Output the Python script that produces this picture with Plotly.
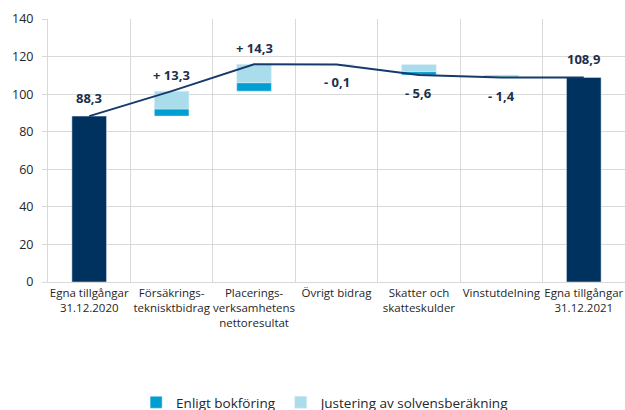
import plotly.graph_objects as go

CATEGORIES = [
    "Egna tillgångar<br>31.12.2020",
    "Försäkrings-<br>teknisktbidrag",
    "Placerings-<br>verksamhetens<br>nettoresultat",
    "Övrigt bidrag",
    "Skatter och<br>skatteskulder",
    "Vinstutdelning",
    "Egna tillgångar<br>31.12.2021",
]
START_VALUE = 88.3
END_VALUE = 108.9
# change components for the five middle steps
ENLIGT_BOKFORING = [3.8, 4.5, 0.0, -1.8, 0.0]
JUSTERING_SOLVENS = [9.5, 9.8, -0.1, -3.8, -1.4]

NAVY = "#00325f"
MID_BLUE = "#009fd3"
LIGHT_BLUE = "#a9ddec"
LABEL_COLOR = "#1c2f4d"
GRID = "#d9d9d9"
FONT = "Open Sans"

steps = CATEGORIES[1:-1]
cum = [START_VALUE]
enl_base, enl_h, jus_base, jus_h = [], [], [], []
for e, j in zip(ENLIGT_BOKFORING, JUSTERING_SOLVENS):
    prev = cum[-1]
    new = prev + e + j
    lower = min(prev, new)
    enl_base.append(lower)
    enl_h.append(abs(e))
    jus_base.append(lower + abs(e))
    jus_h.append(abs(j))
    cum.append(new)
line_y = cum + [END_VALUE]

fig = go.Figure()
fig.add_trace(go.Bar(
    x=[CATEGORIES[0], CATEGORIES[-1]], y=[START_VALUE, END_VALUE],
    marker_color=NAVY, width=0.42, showlegend=False,
))
fig.add_trace(go.Bar(
    x=steps, y=enl_h, base=enl_base, name="Enligt bokföring",
    marker_color=MID_BLUE, width=0.42,
))
fig.add_trace(go.Bar(
    x=steps, y=jus_h, base=jus_base, name="Justering av solvensberäkning",
    marker_color=LIGHT_BLUE, width=0.42,
))
fig.add_trace(go.Scatter(
    x=CATEGORIES, y=line_y, mode="lines",
    line=dict(color="#163a6a", width=2), showlegend=False,
))


def fmt(v):
    return f"{abs(v):.1f}".replace(".", ",")


annotations = []
for cat, v in [(CATEGORIES[0], START_VALUE), (CATEGORIES[-1], END_VALUE)]:
    annotations.append(dict(x=cat, y=v, text=fmt(v), yanchor="bottom", yshift=7))
for i, cat in enumerate(steps):
    delta = ENLIGT_BOKFORING[i] + JUSTERING_SOLVENS[i]
    top = max(cum[i], cum[i + 1])
    low = min(cum[i], cum[i + 1])
    if delta >= 0:
        annotations.append(dict(x=cat, y=top, text="+ " + fmt(delta), yanchor="bottom", yshift=5))
    else:
        annotations.append(dict(x=cat, y=low, text="- " + fmt(delta), yanchor="top", yshift=-7))
for a in annotations:
    a.update(showarrow=False, font=dict(family=FONT, size=13, color=LABEL_COLOR, weight="bold"))

# figure is a bit taller than the window so the legend sits at the very bottom;
# the overflow is clipped by the page
fig.update_layout(
    width=625, height=418,
    margin=dict(l=48, r=0, t=19, b=136),
    barmode="overlay",
    plot_bgcolor="white", paper_bgcolor="white",
    font=dict(family=FONT, size=12, color="#262626"),
    annotations=annotations,
    legend=dict(
        orientation="h", x=0.482, xanchor="center",
        yref="container", y=0, yanchor="bottom",
        font=dict(size=13.5, color="#262626"), traceorder="normal",
    ),
)
fig.update_xaxes(
    type="category", categoryorder="array", categoryarray=CATEGORIES,
    tickson="boundaries", showgrid=True, gridcolor=GRID, tickangle=0,
    showline=True, linecolor=GRID, ticks="", tickfont=dict(size=11.5),
    automargin=False,
)
fig.update_yaxes(
    range=[0, 140], dtick=20, showgrid=True, gridcolor=GRID,
    showline=True, linecolor=GRID, ticks="outside", ticklen=5, tickcolor=GRID,
    ticklabelstandoff=6, tickfont=dict(size=12.5), zeroline=False,
    automargin=False,
)

fig.write_html(
    "out.html",
    config={"displayModeBar": False},
    post_script=(
        "document.body.style.margin = '0';"
        "document.body.style.overflow = 'hidden';"
        "document.documentElement.style.overflow = 'hidden';"
    ),
)
